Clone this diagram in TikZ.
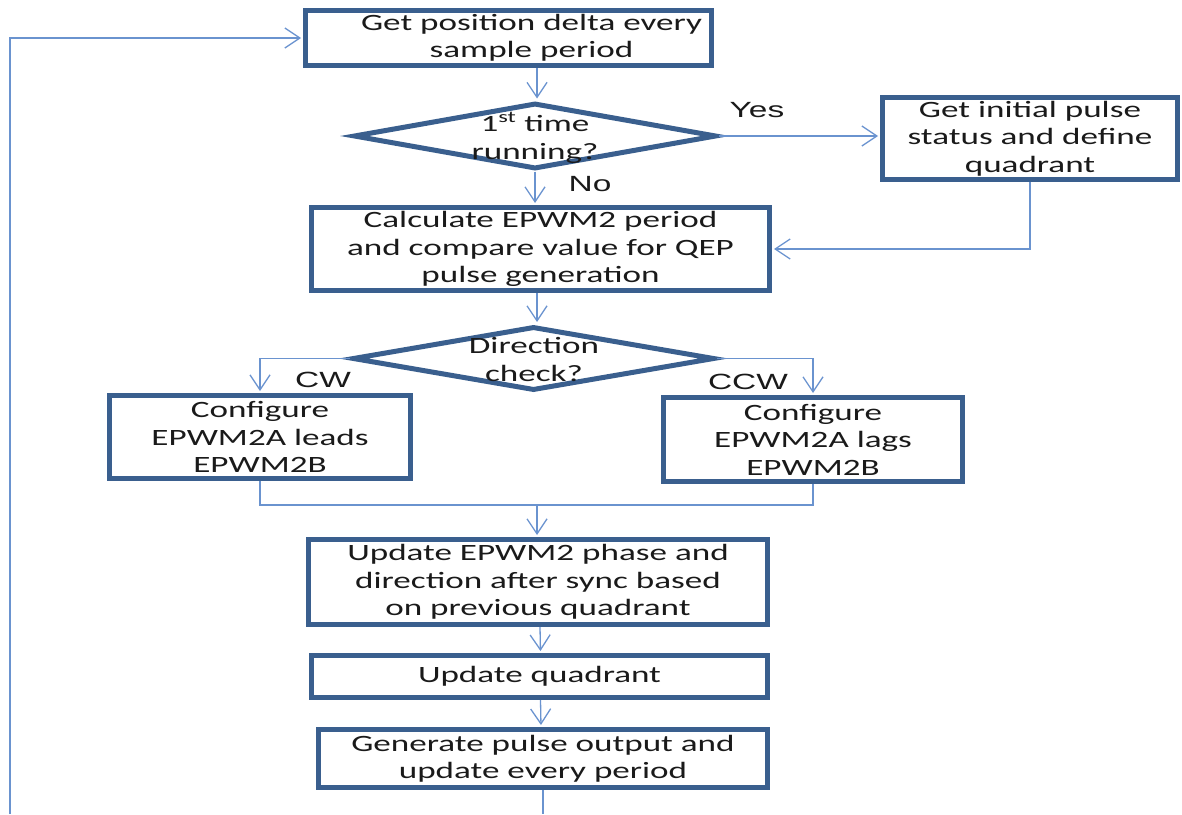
\documentclass[tikz,border=0pt]{standalone}
\usepackage{fontspec}
\setmainfont{Carlito}[FakeStretch=1.5]
\newfontfamily\lblfont{Liberation Sans}[FakeStretch=1.52]
\usetikzlibrary{shapes.geometric,arrows.meta}
\definecolor{boxedge}{HTML}{3A5F8E}
\definecolor{flowline}{HTML}{6A93CF}
\definecolor{ink}{HTML}{1A1A1A}

\begin{document}
\begin{tikzpicture}[x=1pt,y=-1pt,
  stepbox/.style={draw=boxedge, line width=5pt, rectangle, inner sep=0pt,
    align=center, text=ink, font=\fontsize{23.4}{27.5}\selectfont},
  decision/.style={draw=boxedge, line width=5pt, diamond, inner sep=0pt},
  dtext/.style={align=center, inner sep=0pt, text=ink,
    font=\fontsize{23.4}{28}\selectfont},
  flow/.style={draw=flowline, line width=1.3pt},
  arr/.style={flow, shorten >=2pt,
    -{Straight Barb[length=15pt,width=20pt,line width=1.3pt]}},
  tag/.style={font=\lblfont\fontsize{22}{26}\selectfont, inner sep=0pt, text=ink}
]
\useasboundingbox (0,0) rectangle (1182,814);

% process boxes
\node[stepbox, minimum width=406pt, minimum height=55pt] (sample) at (508.5,38)
  {\hspace*{46pt}Get position delta every\\\hspace*{46pt}sample period};
\node[stepbox, minimum width=295pt, minimum height=82pt] (init) at (1030,138.5)
  {Get initial pulse\\status and define\\quadrant};
\node[stepbox, minimum width=458pt, minimum height=83pt] (calc) at (540.5,249)
  {Calculate EPWM2 period\\and compare value for QEP\\pulse generation};
\node[stepbox, minimum width=301pt, minimum height=83pt] (cw) at (260,437)
  {Configure\\EPWM2A leads\\EPWM2B};
\node[stepbox, minimum width=299pt, minimum height=84pt] (ccw) at (813,439.5)
  {Configure\\EPWM2A lags\\EPWM2B};
\node[stepbox, minimum width=459pt, minimum height=85pt] (phase) at (538,582)
  {Update EPWM2 phase and\\direction after sync based\\on previous quadrant};
\node[stepbox, minimum width=456pt, minimum height=42pt] (quad) at (539.5,676.5)
  {Update quadrant};
\node[stepbox, minimum width=449pt, minimum height=58pt] (gen) at (543,758.5)
  {Generate pulse output and\\update every period};

% decisions
\node[decision, minimum width=363pt, minimum height=66pt] (first) at (535,136) {};
\node[dtext] (firsttext) at (535,137.5) {1\textsuperscript{st} time\\running?};
\node[decision, minimum width=362pt, minimum height=64pt] (dir) at (533.5,358.5) {};
\node[dtext] (dirtext) at (534,359) {Direction\\check?};

% branch labels
\node[tag] (yes) at (757,110) {Yes};
\node[tag] (no) at (590,184) {No};
\node[tag] (cwl) at (323,380) {CW};
\node[tag] (ccwl) at (748,382) {CCW};

% helper points
\coordinate (col) at (537,0);
\coordinate (merge) at (537,505);
\coordinate (exit) at (543,814);
\coordinate (loopbot) at (10,814);

% connectors
\draw[arr] (sample.south -| col) -- (first.north -| col);
\draw[arr] (first.east) -- (init.west |- first.east);
\draw[arr] (first.south) -- (calc.north -| first.south);
\draw[arr] (init.south) |- (calc.east);
\draw[arr] (calc.south -| col) -- (dir.north -| col);
\draw[arr] (dir.west) -| (cw.north);
\draw[arr] (dir.east) -| (ccw.north);
\draw[flow] (cw.south) |- (merge) -| (ccw.south);
\draw[arr] (merge) -- (phase.north -| merge);
\draw[arr] ([xshift=2pt]phase.south) -- ([xshift=1pt]quad.north);
\draw[arr] ([xshift=1pt]quad.south) -- ([xshift=-2pt]gen.north);
\draw[flow] (gen.south -| exit) -- (exit);
\draw[arr] (loopbot) |- (sample.west);
\end{tikzpicture}
\end{document}
